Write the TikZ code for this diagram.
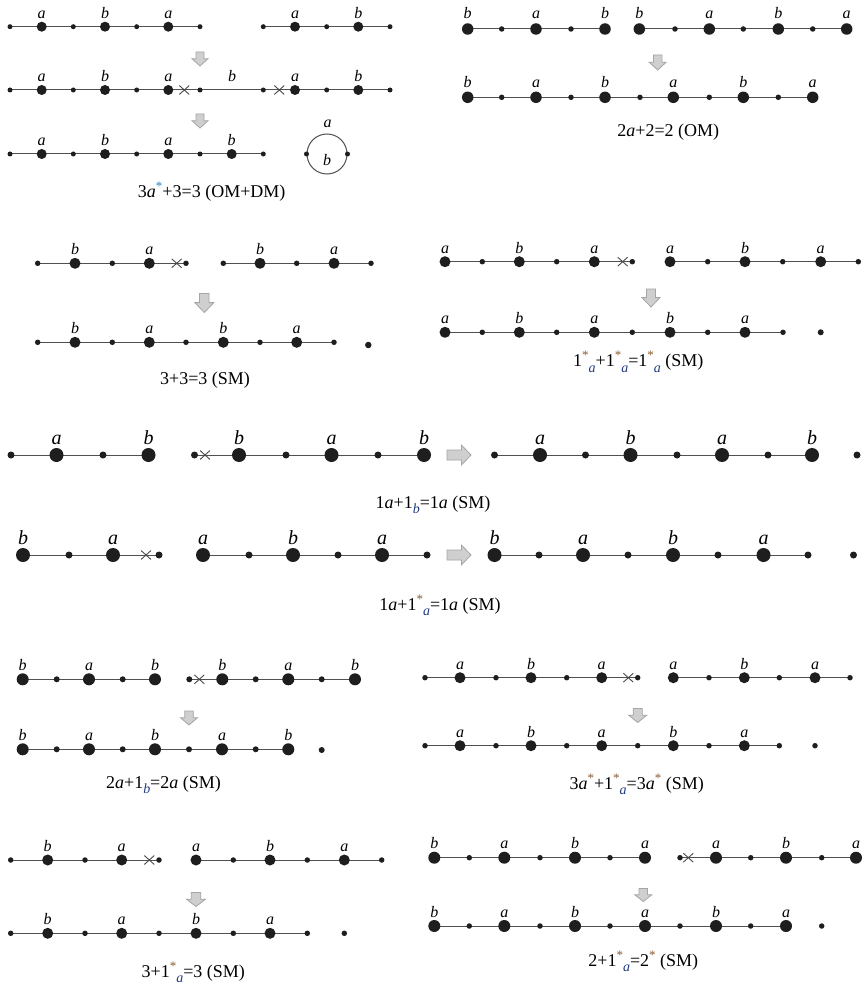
\documentclass[tikz,border=0pt]{standalone}
\usepackage{fontspec}
\setmainfont{Liberation Serif}
\usetikzlibrary{shapes.misc,backgrounds}
\definecolor{dotc}{HTML}{1E1E1E}
\definecolor{linec}{HTML}{505050}
\definecolor{crossc}{HTML}{4A4A4A}
\definecolor{arrf}{HTML}{CFCFCF}
\definecolor{arrd}{HTML}{A5A5A5}
\definecolor{astblue}{HTML}{2A7FC0}
\definecolor{astbr}{HTML}{8A5A30}
\definecolor{subc}{HTML}{203A80}
\newcommand\upst[1][astbr]{\raisebox{0.4em}{\fontsize{13}{13}\selectfont\color{#1}*}}
\newcommand\dnsub[1]{\raisebox{-0.28em}{\fontsize{14}{14}\selectfont\itshape\color{subc}#1}}
\newcommand\chain[3]{\foreach \px/\ty/\lb [count=\i] in {#3}{\node[\ty] (#1-\i) at (\px,#2) {};\if\lb n\else\node[lab] (#1-\i-L) at ([yshift=\labdy]\px,#2) {\lb};\fi}}
\newcommand\chainline[2]{\begin{scope}[on background layer]\draw[ln] (#1-1.center) -- (#1-#2.center);\end{scope}}
\newcommand\darr[4]{\draw[blk] ({#1-#3/4},#2) -- ({#1+#3/4},#2) -- ({#1+#3/4},{#2+#4*0.48}) -- ({#1+#3/2},{#2+#4*0.48}) -- (#1,{#2+#4}) -- ({#1-#3/2},{#2+#4*0.48}) -- ({#1-#3/4},{#2+#4*0.48}) -- cycle;}
\newcommand\rarr[4]{\draw[blk] (#1,{#2-#4/2}) -- ({#1+#3*0.6},{#2-#4/2}) -- ({#1+#3*0.6},{#2-#4}) -- ({#1+#3},#2) -- ({#1+#3*0.6},{#2+#4}) -- ({#1+#3*0.6},{#2+#4/2}) -- (#1,{#2+#4/2}) -- cycle;}
\def\labdy{9pt}
\tikzset{
  dotnode/.style={circle, fill=dotc, inner sep=0pt},
  bd/.style={dotnode, minimum size=11},
  sd/.style={dotnode, minimum size=5.5},
  nd/.style={inner sep=0pt, minimum size=0pt},
  cr/.style={cross out, draw=crossc, line width=0.9, minimum width=9, minimum height=8, inner sep=0pt},
  ln/.style={draw=linec, line width=1.0},
  lab/.style={anchor=base, inner sep=0pt, font=\fontsize{16}{16}\selectfont\itshape},
  captxt/.style={inner sep=0pt, font=\fontsize{18}{18}\selectfont},
  blk/.style={fill=arrf, draw=arrd, line width=0.8, line join=miter},
}
\begin{document}
\begin{tikzpicture}[x=1pt,y=-1pt]
\begin{scope}[on background layer]
\fill[white] (0,0) rectangle (862,987);
\end{scope}
\useasboundingbox (0,0) rectangle (862,987);

% ---------- panel 1 ----------
\begin{scope}[bd/.style={dotnode,minimum size=10}, sd/.style={dotnode,minimum size=5}]
\def\labdy{8pt}
\chain{A}{26.7}{10/sd/n,41.7/bd/a,73.3/sd/n,105/bd/b,136.7/sd/n,168.3/bd/a,200/sd/n}
\chainline{A}{7}
\chain{B}{26.7}{263.3/sd/n,295/bd/a,326.7/sd/n,358.3/bd/b,390/sd/n}
\chainline{B}{5}
\darr{200}{52}{16}{14}
\chain{C}{90}{10/sd/n,41.7/bd/a,73.3/sd/n,105/bd/b,136.7/sd/n,168.3/bd/a,184.3/cr/n,200/sd/n,232/nd/b,263.3/sd/n,279.3/cr/n,295/bd/a,326.7/sd/n,358.3/bd/b,390/sd/n}
\chainline{C}{15}
\darr{200}{114}{16}{14}
\chain{D}{154}{10/sd/n,41.7/bd/a,73.3/sd/n,105/bd/b,136.7/sd/n,168.3/bd/a,200/sd/n,231.7/bd/b,263.3/sd/n}
\chainline{D}{9}
\node[draw=linec, line width=1, circle, minimum size=40, inner sep=0pt] (ring) at (327,154) {};
\node[sd] (ringL) at (ring.west) {};
\node[sd] (ringR) at (ring.east) {};
\node[lab] (ringA) at (327.5,127.5) {a};
\node[lab] (ringB) at (327,166) {b};
\node[captxt] (cap1) at (211.7,191.7) {3\textit{a}\upst[astblue]+3=3 (OM+DM)};
\end{scope}

% ---------- panel 2 ----------
\begin{scope}[bd/.style={dotnode,minimum size=11.5}, sd/.style={dotnode,minimum size=5.5}]
\def\labdy{10pt}
\chain{E}{29}{467.7/bd/b,501.7/sd/n,536/bd/a,571/sd/n,605/bd/b}
\chainline{E}{5}
\chain{F}{29}{639.3/bd/b,675/sd/n,709.3/bd/a,743.3/sd/n,778.3/bd/b,812.7/sd/n,846.7/bd/a}
\chainline{F}{7}
\darr{657.7}{55}{17}{15}
\chain{G}{97.3}{467.7/bd/b,501.7/sd/n,536/bd/a,571/sd/n,605/bd/b,640/sd/n,673.3/bd/a,709.3/sd/n,743.3/bd/b,778.3/sd/n,812.7/bd/a}
\chainline{G}{11}
\node[captxt] (cap2) at (668.3,132) {2\textit{a}+2=2 (OM)};
\end{scope}

% ---------- panel 3 ----------
\begin{scope}[bd/.style={dotnode,minimum size=11}, sd/.style={dotnode,minimum size=5.5}]
\def\labdy{9pt}
\chain{H}{263.3}{37.7/sd/n,75/bd/b,112.3/sd/n,149.3/bd/a,176.7/cr/n,186/sd/n}
\chainline{H}{6}
\chain{I}{263.3}{223.3/sd/n,260/bd/b,296.7/sd/n,334/bd/a,371/sd/n}
\chainline{I}{5}
\darr{204.3}{293.5}{19}{19}
\chain{J}{342.3}{37.7/sd/n,75/bd/b,112.3/sd/n,149.3/bd/a,186/sd/n,223.3/bd/b,260/sd/n,296.7/bd/a,334/sd/n}
\chainline{J}{9}
\node[sd, minimum size=6.5] (J-iso) at (368.3,345) {};
\node[captxt] (cap3) at (205,380) {3+3=3 (SM)};
\end{scope}

% ---------- panel 4 ----------
\begin{scope}[bd/.style={dotnode,minimum size=11}, sd/.style={dotnode,minimum size=5.5}]
\def\labdy{8.5pt}
\chain{K}{261.7}{445/bd/a,482.3/sd/n,519.3/bd/b,556.7/sd/n,594.3/bd/a,622.7/cr/n,632.3/sd/n}
\chainline{K}{7}
\chain{L}{261.7}{670/bd/a,707.7/sd/n,745/bd/b,782.7/sd/n,820.7/bd/a,858.3/sd/n}
\chainline{L}{6}
\darr{651}{289}{18}{18}
\chain{M}{332.3}{445/bd/a,482.3/sd/n,519.3/bd/b,556.7/sd/n,594.3/bd/a,632.3/sd/n,670/bd/b,707.7/sd/n,745/bd/a,783/sd/n}
\chainline{M}{10}
\node[sd, minimum size=6] (M-iso) at (820.7,332.3) {};
\node[captxt] (cap4) at (638.3,361.7) {1\upst\dnsub{a}+1\upst\dnsub{a}=1\upst\dnsub{a} (SM)};
\end{scope}

% ---------- row 5 ----------
\begin{scope}[bd/.style={dotnode,minimum size=14}, sd/.style={dotnode,minimum size=7}, lab/.style={anchor=base, inner sep=0pt, font=\fontsize{20}{20}\selectfont\itshape}]
\def\labdy{11pt}
\chain{N}{455}{11/sd/n,56.5/bd/a,103/sd/n,148.5/bd/b}
\chainline{N}{4}
\chain{O}{455}{194.5/sd/n,205/cr/n,239/bd/b,286/sd/n,331.5/bd/a,378/sd/n,424/bd/b}
\chainline{O}{7}
\rarr{447}{455}{24}{10}
\chain{P}{455}{494.5/sd/n,540/bd/a,585.5/sd/n,630.5/bd/b,677/sd/n,722/bd/a,768/sd/n,812/bd/b}
\chainline{P}{8}
\node[sd] (P-iso) at (857,455) {};
\node[captxt] (cap5) at (433,505) {1\textit{a}+1\dnsub{b}=1\textit{a} (SM)};

% ---------- row 6 ----------
\chain{Q}{555}{23/bd/b,69/sd/n,113/bd/a,146/cr/n,159/sd/n}
\chainline{Q}{5}
\chain{R}{555}{203/bd/a,249/sd/n,293/bd/b,338/sd/n,382/bd/a,427/sd/n}
\chainline{R}{6}
\rarr{447}{555}{24}{10}
\chain{S}{555}{494.5/bd/b,539/sd/n,583/bd/a,628/sd/n,673/bd/b,718/sd/n,763.5/bd/a,808/sd/n}
\chainline{S}{8}
\node[sd] (S-iso) at (853.5,555) {};
\node[captxt] (cap6) at (440,605) {1\textit{a}+1\upst\dnsub{a}=1\textit{a} (SM)};
\end{scope}

% ---------- panel 7 ----------
\begin{scope}[bd/.style={dotnode,minimum size=12}, sd/.style={dotnode,minimum size=6}]
\def\labdy{9pt}
\chain{T}{679.3}{22.7/bd/b,56.7/sd/n,89/bd/a,122.7/sd/n,155/bd/b}
\chainline{T}{5}
\chain{U}{679.3}{189.3/sd/n,199.3/cr/n,222.3/bd/b,255.7/sd/n,288.3/bd/a,321.7/sd/n,355/bd/b}
\chainline{U}{7}
\darr{189}{711}{17}{14}
\chain{V}{749.3}{22.7/bd/b,56.7/sd/n,89/bd/a,122.7/sd/n,155/bd/b,189/sd/n,222/bd/a,255.7/sd/n,288.3/bd/b}
\chainline{V}{9}
\node[sd] (V-iso) at (321.7,750) {};
\node[captxt] (cap7) at (163.5,785) {2\textit{a}+1\dnsub{b}=2\textit{a} (SM)};
\end{scope}

% ---------- panel 8 ----------
\begin{scope}[bd/.style={dotnode,minimum size=11}, sd/.style={dotnode,minimum size=5.5}]
\def\labdy{8.5pt}
\chain{W}{677.7}{425/sd/n,460/bd/a,496/sd/n,531/bd/b,566.7/sd/n,601.7/bd/a,628.3/cr/n,637.7/sd/n}
\chainline{W}{8}
\chain{X}{677.7}{673.3/bd/a,709/sd/n,744.3/bd/b,779.3/sd/n,815/bd/a,850/sd/n}
\chainline{X}{6}
\darr{637.7}{708.5}{18}{14}
\chain{Y}{745.7}{425/sd/n,460/bd/a,496/sd/n,531/bd/b,566.7/sd/n,601.7/bd/a,637.7/sd/n,673.3/bd/b,709/sd/n,744.3/bd/a,779.3/sd/n}
\chainline{Y}{11}
\node[sd] (Y-iso) at (815,745.7) {};
\node[captxt] (cap8) at (636.7,784.3) {3\textit{a}\upst+1\upst\dnsub{a}=3\textit{a}\upst\ (SM)};
\end{scope}

% ---------- panel 9 ----------
\begin{scope}[bd/.style={dotnode,minimum size=11}, sd/.style={dotnode,minimum size=5.5}]
\def\labdy{9pt}
\chain{Z}{860}{10.7/sd/n,47.7/bd/b,85/sd/n,121.7/bd/a,149.3/cr/n,159/sd/n}
\chainline{Z}{6}
\chain{AA}{860}{196/bd/a,233.3/sd/n,270/bd/b,307.3/sd/n,344.3/bd/a,381.7/sd/n}
\chainline{AA}{6}
\darr{196}{892.5}{19}{14}
\chain{AB}{933.3}{10.7/sd/n,47.7/bd/b,85/sd/n,121.7/bd/a,159/sd/n,196/bd/b,233.3/sd/n,270/bd/a,307.3/sd/n}
\chainline{AB}{9}
\node[sd] (AB-iso) at (344.3,933.3) {};
\node[captxt] (cap9) at (193.3,972) {3+1\upst\dnsub{a}=3 (SM)};
\end{scope}

% ---------- panel 10 ----------
\begin{scope}[bd/.style={dotnode,minimum size=12}, sd/.style={dotnode,minimum size=5.5}]
\def\labdy{9pt}
\chain{AC}{857.7}{434.3/bd/b,469.3/sd/n,504.3/bd/a,540/sd/n,575/bd/b,610/sd/n,645/bd/a}
\chainline{AC}{7}
\chain{AD}{857.7}{680/sd/n,688.3/cr/n,716/bd/a,750.7/sd/n,786/bd/b,821.7/sd/n,856/bd/a}
\chainline{AD}{7}
\darr{643.3}{888.5}{17}{13}
\chain{AE}{926}{434.3/bd/b,469.3/sd/n,504.3/bd/a,540/sd/n,575/bd/b,610/sd/n,645/bd/a,680/sd/n,716/bd/b,750.7/sd/n,786/bd/a}
\chainline{AE}{11}
\node[sd] (AE-iso) at (821.7,926) {};
\node[captxt] (cap10) at (643.3,961) {2+1\upst\dnsub{a}=2\upst\ (SM)};
\end{scope}
\end{tikzpicture}
\end{document}
